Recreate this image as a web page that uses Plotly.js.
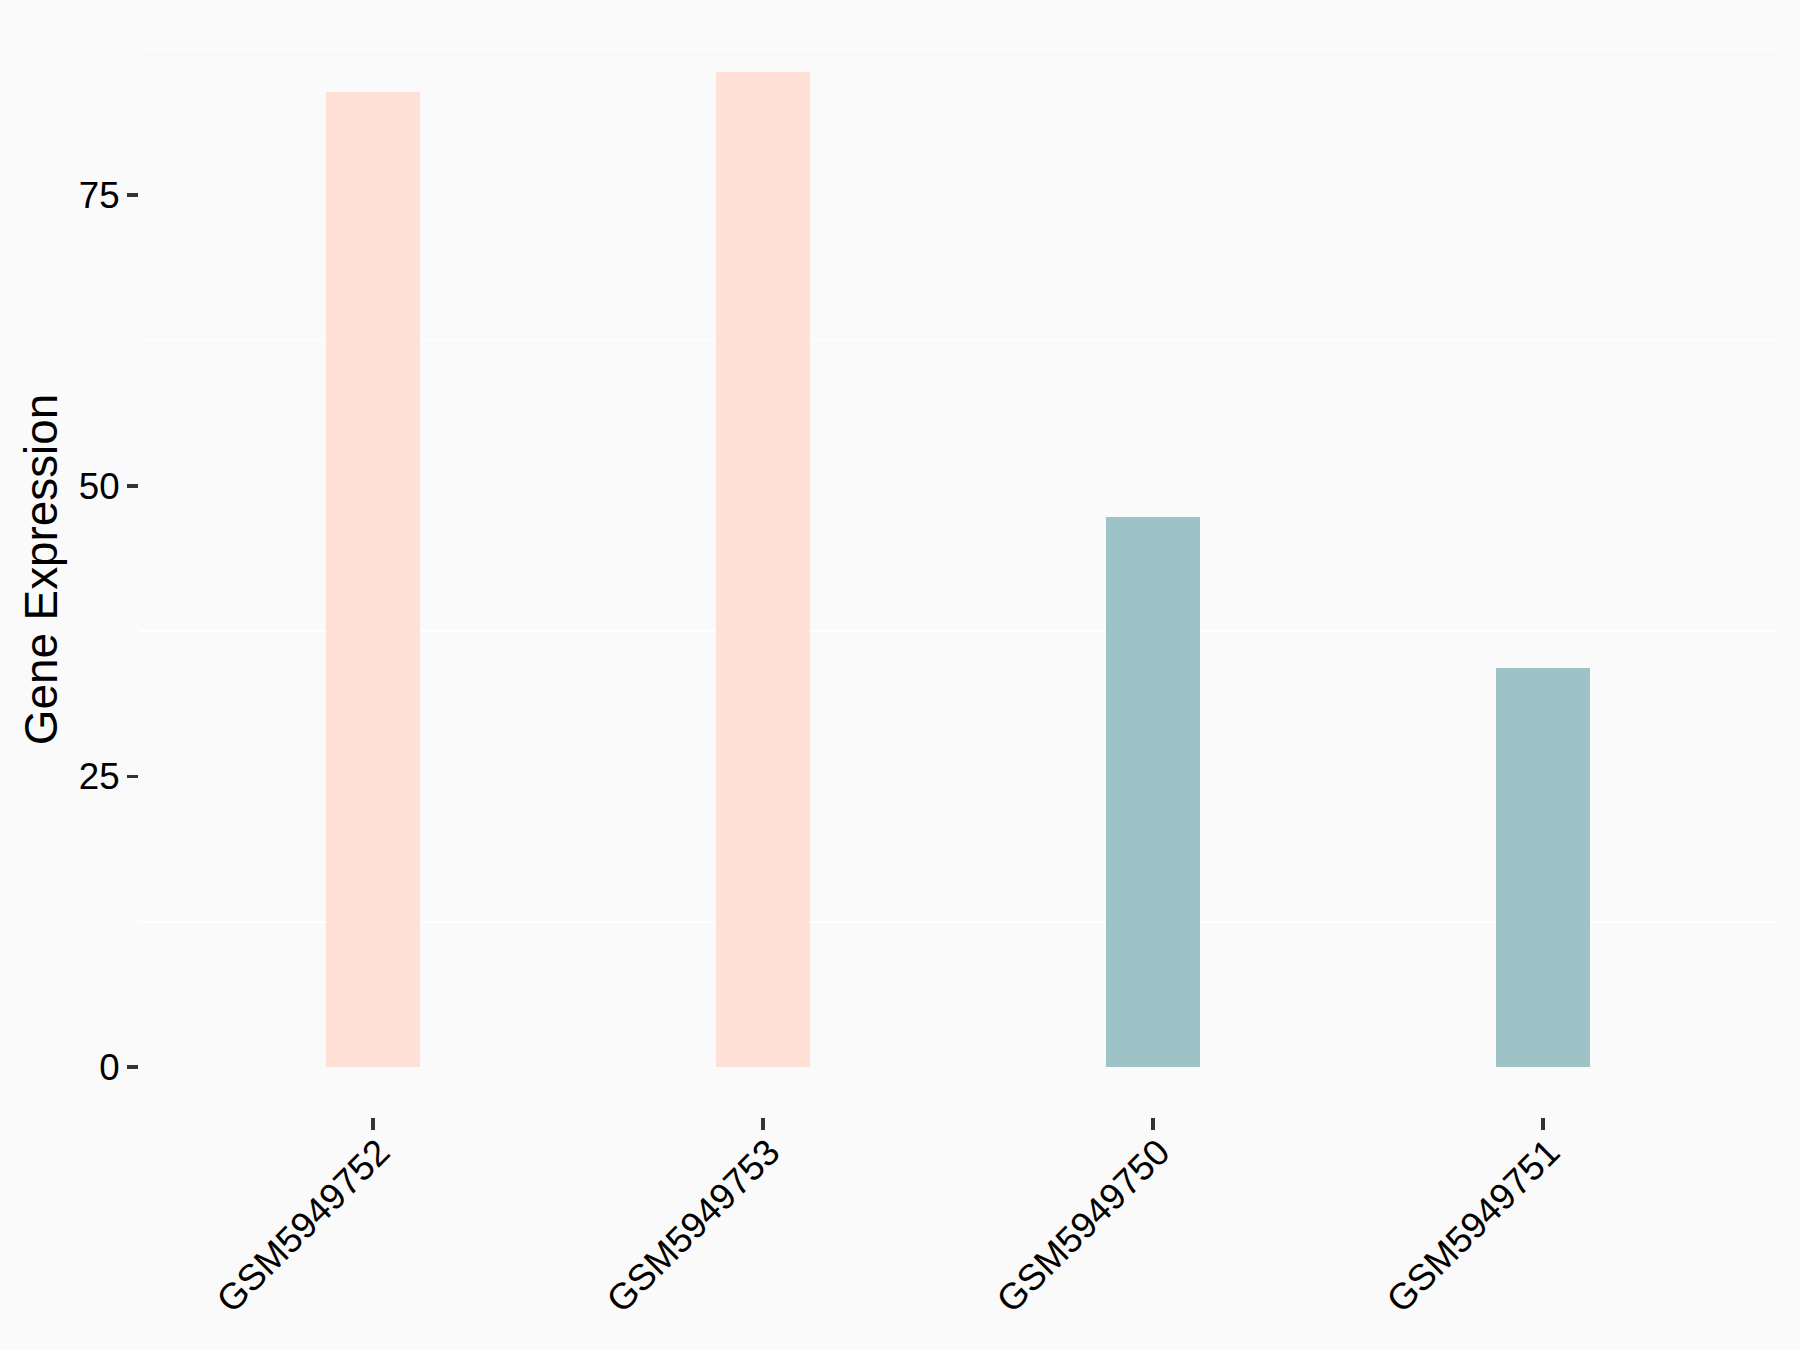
<!DOCTYPE html>
<html>
<head>
<meta charset="utf-8">
<script src="https://cdn.plot.ly/plotly-3.0.1.min.js"></script>
<style>
  html, body { margin: 0; padding: 0; background: #FAFAFA; }
  #chart { width: 1800px; height: 1350px; }
</style>
</head>
<body>
<div id="chart"></div>
<script>
// Data
const samples = ["GSM5949752", "GSM5949753", "GSM5949750", "GSM5949751"];
const expression = [83.9, 85.6, 47.3, 34.3];
const groups = ["high", "high", "low", "low"];
const groupColors = { high: "#FEE0D6", low: "#9DC3C7" };
const yTickVals = [0, 25, 50, 75];
const yTickText = ["0", "25", "50", "75"];
const yMinorVals = [12.5, 37.5, 62.5, 87.5];

const fontFamily = "Liberation Sans, Arial, Helvetica, sans-serif";

const trace = {
  type: "bar",
  x: samples,
  y: expression,
  width: 0.24,
  marker: { color: groups.map(g => groupColors[g]), line: { width: 0 } },
  hoverinfo: "x+y",
  showlegend: false
};

const yMax = Math.max(...expression);
const pad = yMax * 0.05;

const layout = {
  width: 1800,
  height: 1350,
  paper_bgcolor: "#FAFAFA",
  plot_bgcolor: "#FAFAFA",
  margin: { l: 139, r: 23, t: 22, b: 233, pad: 0 },
  font: { family: fontFamily, color: "#000000" },
  bargap: 0,
  xaxis: {
    type: "category",
    categoryorder: "array",
    categoryarray: samples,
    range: [-0.6, samples.length - 0.4],
    showgrid: false,
    zeroline: false,
    showline: false,
    ticks: "outside",
    ticklen: 12,
    tickwidth: 3.5,
    tickcolor: "#333333",
    tickangle: -45,
    ticklabelstandoff: -14,
    ticklabelshift: 6,
    tickfont: { family: fontFamily, size: 36.7, color: "#000000" },
    automargin: false
  },
  yaxis: {
    range: [-pad, yMax + pad],
    tickmode: "array",
    tickvals: yTickVals,
    ticktext: yTickText,
    showgrid: false,
    zeroline: false,
    showline: false,
    ticks: "outside",
    ticklen: 11,
    tickwidth: 3.5,
    tickcolor: "#333333",
    tickfont: { family: fontFamily, size: 36.7, color: "#000000" },
    minor: {
      tickmode: "array",
      tickvals: yMinorVals,
      ticks: "",
      showgrid: true,
      gridcolor: "#FFFFFF",
      gridwidth: 1.6
    },
    title: {
      text: "Gene Expression",
      font: { family: fontFamily, size: 45.8, color: "#000000" },
      standoff: 6
    },
    automargin: false
  }
};

Plotly.newPlot("chart", [trace], layout, { displayModeBar: false, staticPlot: true });
</script>
</body>
</html>
